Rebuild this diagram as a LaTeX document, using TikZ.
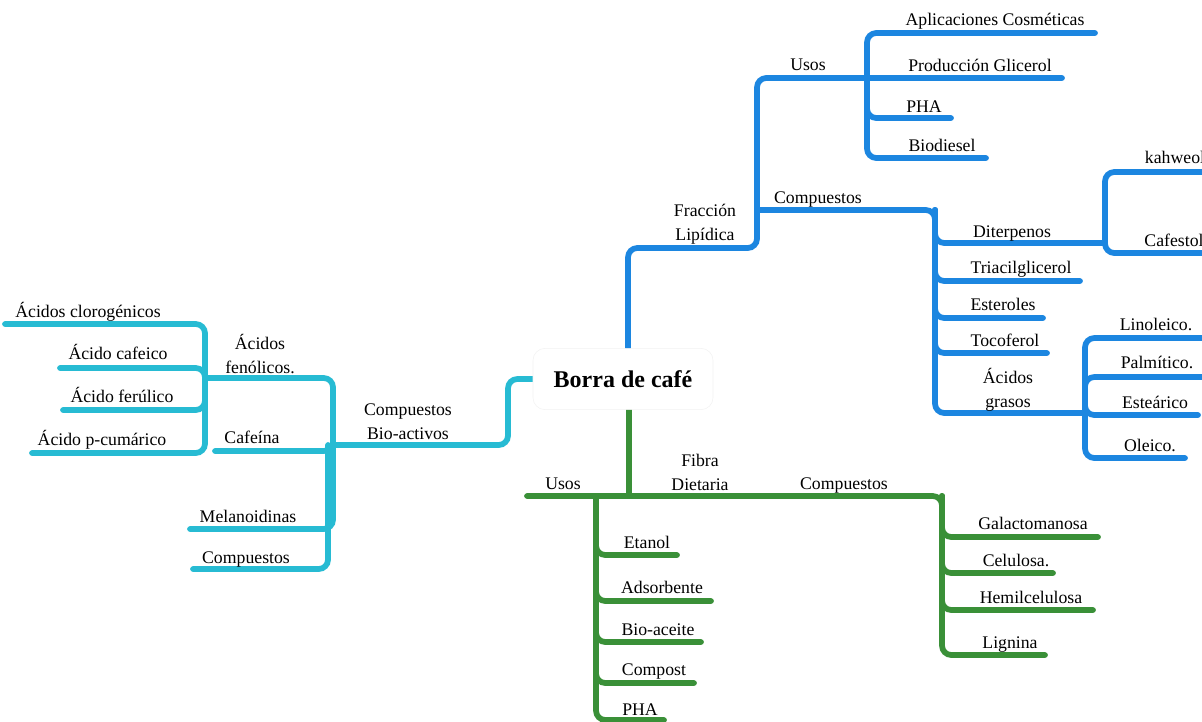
\documentclass[tikz,border=0pt]{standalone}
\usepackage{fontspec}
\setmainfont{Liberation Serif}
\definecolor{lblue}{HTML}{1C86E0}
\definecolor{lcyan}{HTML}{27BBD3}
\definecolor{lgreen}{HTML}{3A9038}
\begin{document}
\begin{tikzpicture}[x=0.75pt,y=-0.75pt,
  br/.style={line width=4.3pt, line cap=round, rounded corners=7pt},
  bl/.style={br, draw=lblue},
  cy/.style={br, draw=lcyan},
  gr/.style={br, draw=lgreen},
  t/.style={font=\fontsize{13.3}{18}\selectfont, inner sep=0pt, anchor=base},
  t2/.style={font=\fontsize{13.3}{18}\selectfont, inner sep=0pt, anchor=center, align=center},
  rootbox/.style={draw=black!5, fill=white, rounded corners=9pt, minimum width=135pt, minimum height=46pt, font=\fontsize{18}{20}\selectfont\bfseries}]
\useasboundingbox (0,0) rectangle (1202,721);

% ---------- coordinates ----------
% blue
\coordinate (b0) at (628,348);
\coordinate (b1) at (757,248);
\coordinate (bU) at (867,78);
\coordinate (bUe) at (1062,78);
\coordinate (aplE) at (1095,33);
\coordinate (phaE) at (951,118);
\coordinate (biodE) at (986,158);
\coordinate (bC0) at (757,210);
\coordinate (bCJ) at (935,210);
\coordinate (dtJ) at (1105,243);
\coordinate (kahE) at (1206,172);
\coordinate (cfsE) at (1206,253);
\coordinate (triE) at (1080,281);
\coordinate (estE) at (1043,318);
\coordinate (tocE) at (1047,353);
\coordinate (agJ) at (1085,413);
\coordinate (linE) at (1206,338);
\coordinate (palE) at (1206,377);
\coordinate (steE) at (1198,415);
\coordinate (oleE) at (1185,458);
% cyan
\coordinate (c0) at (533,379);
\coordinate (cB) at (508,445);
\coordinate (cJ) at (333,445);
\coordinate (cJb) at (328,445);
\coordinate (afJ) at (205,378);
\coordinate (clE) at (5,324);
\coordinate (cafE) at (60,368);
\coordinate (ferE) at (63,410);
\coordinate (pcE) at (32,453);
\coordinate (cfnE) at (215,451);
\coordinate (melE) at (190,529);
\coordinate (cmpE) at (193,569);
% green
\coordinate (g0) at (629,410);
\coordinate (gJ) at (629,496);
\coordinate (gL) at (527,496);
\coordinate (gU) at (596,496);
\coordinate (gCJ) at (942,496);
\coordinate (gCB) at (942,655);
\coordinate (ligE) at (1045,655);
\coordinate (galE) at (1098,537);
\coordinate (celE) at (1053,573);
\coordinate (hemE) at (1093,610);
\coordinate (etE) at (677,555);
\coordinate (adsE) at (711,601);
\coordinate (baE) at (701,642);
\coordinate (cpE) at (694,683);
\coordinate (phgE) at (664,720);

% ---------- blue branch ----------
\draw[bl] (b0) |- (b1) |- (bU) -- (bUe);
\draw[bl] (bU) |- (aplE);
\draw[bl] (bU) |- (phaE);
\draw[bl] (bU) |- (biodE);
\draw[bl] (bC0) -- (bCJ) |- (agJ);
\draw[bl] (bCJ) |- (dtJ);
\draw[bl] (dtJ) |- (kahE);
\draw[bl] (dtJ) |- (cfsE);
\draw[bl] (bCJ) |- (triE);
\draw[bl] (bCJ) |- (estE);
\draw[bl] (bCJ) |- (tocE);
\draw[bl] (agJ) |- (linE);
\draw[bl] (agJ) |- (palE);
\draw[bl] (agJ) |- (steE);
\draw[bl] (agJ) |- (oleE);

% ---------- cyan branch ----------
\draw[cy] (c0) -| (cB) -- (cJ);
\draw[cy] (cJ) |- (afJ);
\draw[cy] (afJ) |- (clE);
\draw[cy] (afJ) |- (cafE);
\draw[cy] (afJ) |- (ferE);
\draw[cy] (afJ) |- (pcE);
\draw[cy] (cJ) |- (cfnE);
\draw[cy] (cJ) |- (melE);
\draw[cy] (cJb) |- (cmpE);

% ---------- green branch ----------
\draw[gr] (g0) -- (gJ);
\draw[gr] (gL) -- (gJ) -| (gCB) -- (ligE);
\draw[gr] (gCJ) |- (galE);
\draw[gr] (gCJ) |- (celE);
\draw[gr] (gCJ) |- (hemE);
\draw[gr] (gU) |- (etE);
\draw[gr] (gU) |- (adsE);
\draw[gr] (gU) |- (baE);
\draw[gr] (gU) |- (cpE);
\draw[gr] (gU) |- (phgE);

% ---------- root ----------
\node[rootbox] (root) at (623,379) {Borra de café};

% ---------- blue texts ----------
\node[t2] (fl) at (705,224) {Fracción\\Lipídica};
\node[t] (bus) at (808,70) {Usos};
\node[t] (apl) at (995,25) {Aplicaciones Cosméticas};
\node[t] (pgl) at (980,71) {Producción Glicerol};
\node[t] (pha) at (924,112) {PHA};
\node[t] (bio) at (942,151) {Biodiesel};
\node[t] (bco) at (818,203) {Compuestos};
\node[t] (dit) at (1012,237) {Diterpenos};
\node[t] (kah) at (1175,163) {kahweol};
\node[t] (cfs) at (1174,246) {Cafestol};
\node[t] (tri) at (1021,273) {Triacilglicerol};
\node[t] (est) at (1003,310) {Esteroles};
\node[t] (toc) at (1005,346) {Tocoferol};
\node[t2] (agr) at (1008,390) {Ácidos\\grasos};
\node[t] (lin) at (1156,330) {Linoleico.};
\node[t] (pal) at (1157,368) {Palmítico.};
\node[t] (ste) at (1155,408) {Esteárico};
\node[t] (ole) at (1150,451) {Oleico.};

% ---------- cyan texts ----------
\node[t2] (cba) at (408,422) {Compuestos\\Bio-activos};
\node[t2] (afn) at (260,354) {Ácidos\\fenólicos.};
\node[t] (clo) at (88,317) {Ácidos clorogénicos};
\node[t] (caf) at (118,359) {Ácido cafeico};
\node[t] (fer) at (122,402) {Ácido ferúlico};
\node[t] (pcu) at (102,445) {Ácido p-cumárico};
\node[t] (cfn) at (252,443) {Cafeína};
\node[t] (mel) at (248,522) {Melanoidinas};
\node[t] (cmp) at (246,563) {Compuestos};

% ---------- green texts ----------
\node[t2] (fd) at (700,472) {Fibra\\Dietaria};
\node[t] (gus) at (563,489) {Usos};
\node[t] (gco) at (844,489) {Compuestos};
\node[t] (eta) at (647,548) {Etanol};
\node[t] (ads) at (662,593) {Adsorbente};
\node[t] (bac) at (658,635) {Bio-aceite};
\node[t] (cpt) at (654,675) {Compost};
\node[t] (gph) at (640,715) {PHA};
\node[t] (gal) at (1033,529) {Galactomanosa};
\node[t] (cel) at (1016,566) {Celulosa.};
\node[t] (hem) at (1031,603) {Hemilcelulosa};
\node[t] (lig) at (1010,648) {Lignina};
\end{tikzpicture}
\end{document}
